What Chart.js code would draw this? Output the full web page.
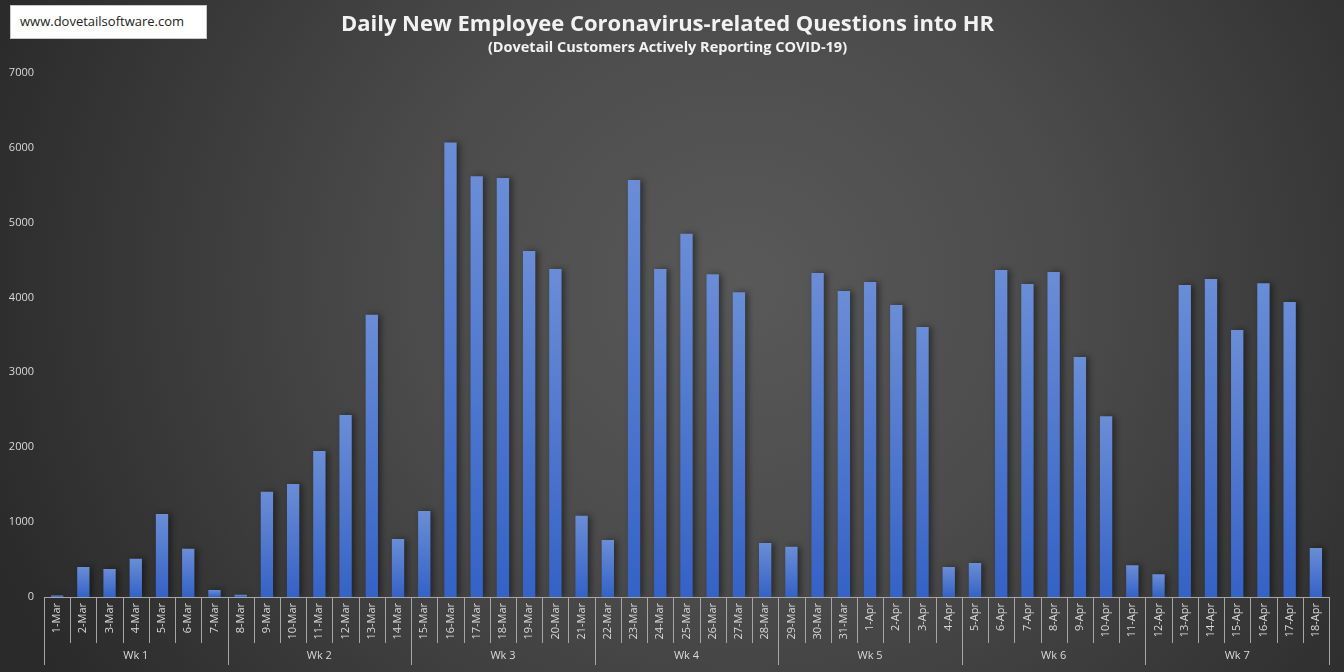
<!DOCTYPE html>
<html>
<head>
<meta charset="utf-8">
<script src="https://cdn.jsdelivr.net/npm/chart.js@4"></script>
<style>
  html, body { margin: 0; padding: 0; }
  body {
    width: 1344px; height: 672px; overflow: hidden; position: relative;
    background: radial-gradient(ellipse 62% 115% at 55% 42%, #595959 0%, #4b4b4b 40%, #2a2a2a 96%);
  }
  #site {
    position: absolute; left: 10px; top: 5px; width: 186px; height: 32px;
    background: #fff; border: 1px solid #c8c8c8; padding-left: 9px;
    font: 13px "Open Sans", sans-serif; color: #222; line-height: 30px;
  }
  #wrap { position: absolute; left: 0; top: 0; width: 1344px; height: 672px; }
</style>
</head>
<body>
<div id="site">www.dovetailsoftware.com</div>
<div id="wrap"><canvas id="chart"></canvas></div>
<script>
const days = ["1-Mar","2-Mar","3-Mar","4-Mar","5-Mar","6-Mar","7-Mar",
  "8-Mar","9-Mar","10-Mar","11-Mar","12-Mar","13-Mar","14-Mar",
  "15-Mar","16-Mar","17-Mar","18-Mar","19-Mar","20-Mar","21-Mar",
  "22-Mar","23-Mar","24-Mar","25-Mar","26-Mar","27-Mar","28-Mar",
  "29-Mar","30-Mar","31-Mar","1-Apr","2-Apr","3-Apr","4-Apr",
  "5-Apr","6-Apr","7-Apr","8-Apr","9-Apr","10-Apr","11-Apr",
  "12-Apr","13-Apr","14-Apr","15-Apr","16-Apr","17-Apr","18-Apr"];
const weeks = ["Wk 1","Wk 2","Wk 3","Wk 4","Wk 5","Wk 6","Wk 7"];
const questions = [20, 400, 375, 510, 1110, 645, 95,
  30, 1405, 1510, 1950, 2430, 3770, 775,
  1150, 6070, 5620, 5595, 4620, 4380, 1085,
  760, 5570, 4380, 4850, 4310, 4070, 720,
  670, 4325, 4085, 4205, 3900, 3605, 400,
  455, 4365, 4180, 4340, 3205, 2415, 425,
  305, 4165, 4245, 3565, 4190, 3940, 655];
const yTicks = [0, 1000, 2000, 3000, 4000, 5000, 6000, 7000];

const labelColor = '#d9d9d9';
const lineColor = '#a6a6a6';

// per-bar vertical gradient, light at top
function barFill(ctx) {
  const chart = ctx.chart;
  const y = chart.scales.y;
  if (!chart.chartArea || !y || ctx.raw == null) return '#4a75cc';
  const top = y.getPixelForValue(ctx.raw);
  const bottom = y.getPixelForValue(0);
  if (!isFinite(top) || bottom - top < 1) return '#6a8dd6';
  const g = chart.ctx.createLinearGradient(0, top, 0, bottom);
  g.addColorStop(0, '#6a8dd6');
  g.addColorStop(1, '#3462c6');
  return g;
}

const barShadow = {
  id: 'barShadow',
  beforeDatasetsDraw(chart) {
    const c = chart.ctx;
    c.save();
    c.shadowColor = 'rgba(0,0,0,0.45)';
    c.shadowBlur = 6;
    c.shadowOffsetX = 3;
    c.shadowOffsetY = 0;
  },
  afterDatasetsDraw(chart) {
    chart.ctx.restore();
  }
};

// day and week separators under the axis
const separators = {
  id: 'separators',
  afterDraw(chart) {
    const x = chart.scales.x;
    const x2 = chart.scales.x2;
    const c = chart.ctx;
    const y0 = x.top;
    c.save();
    c.strokeStyle = lineColor;
    c.lineWidth = 1;
    for (let i = 0; i <= days.length; i++) {
      const px = Math.round(x.getPixelForValue(i - 0.5)) + 0.5;
      const isWeek = i % 7 === 0;
      c.beginPath();
      c.moveTo(px, y0);
      c.lineTo(px, isWeek ? x2.bottom - 2 : x.bottom);
      c.stroke();
    }
    c.restore();
  }
};

new Chart(document.getElementById('chart'), {
  type: 'bar',
  data: {
    labels: days,
    datasets: [{
      label: 'Questions',
      data: questions,
      backgroundColor: barFill,
      borderWidth: 0,
      barPercentage: 0.47,
      categoryPercentage: 1.0
    }]
  },
  plugins: [barShadow, separators],
  options: {
    responsive: true,
    maintainAspectRatio: false,
    animation: false,
    layout: { padding: { left: 6, right: 15, top: 0, bottom: 5 } },
    plugins: {
      legend: { display: false },
      tooltip: { enabled: false },
      title: {
        display: true,
        text: 'Daily New Employee Coronavirus-related Questions into HR',
        color: '#f2f2f2',
        font: { family: '"Open Sans", sans-serif', size: 22, weight: 'bold' },
        padding: { top: 12, bottom: 0 }
      },
      subtitle: {
        display: true,
        text: '(Dovetail Customers Actively Reporting COVID-19)',
        color: '#f2f2f2',
        font: { family: '"Open Sans", sans-serif', size: 14.5, weight: 'bold' },
        padding: { top: 1, bottom: 16 }
      }
    },
    scales: {
      y: {
        min: 0,
        max: 7000,
        afterBuildTicks(scale) { scale.ticks = yTicks.map(v => ({ value: v })); },
        afterFit(scale) { scale.width = 38; },
        grid: { display: false, drawTicks: false },
        border: { display: false },
        ticks: {
          color: labelColor,
          padding: 10,
          font: { family: '"Open Sans", sans-serif', size: 11 },
          callback: v => String(v)
        }
      },
      x: {
        position: 'bottom',
        grid: { display: false, drawTicks: false },
        border: { display: true, color: lineColor, width: 1 },
        ticks: {
          color: labelColor,
          minRotation: 90,
          maxRotation: 90,
          autoSkip: false,
          padding: 6,
          font: { family: '"Open Sans", sans-serif', size: 11 }
        },
        afterFit(scale) { scale.height = 46; }
      },
      x2: {
        type: 'category',
        labels: weeks,
        position: 'bottom',
        offset: true,
        grid: { display: false, drawTicks: false },
        border: { display: false },
        ticks: {
          color: labelColor,
          padding: 6,
          font: { family: '"Open Sans", sans-serif', size: 11 }
        },
        afterFit(scale) { scale.height = 24; }
      }
    }
  }
});
</script>
</body>
</html>
